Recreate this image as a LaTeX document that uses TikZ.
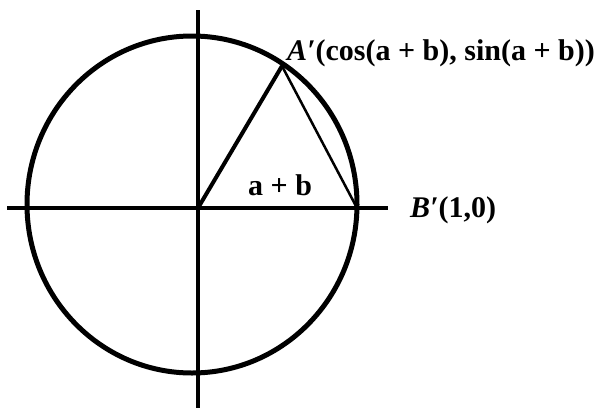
\documentclass[tikz,border=0pt]{standalone}
\usepackage{fontspec}
\setmainfont{Liberation Serif}
\usetikzlibrary{positioning}

\begin{document}
\begin{tikzpicture}[x=1pt, y=-1pt,
	axis/.style={line width=4pt},
	rim/.style={line width=5pt},
	chord/.style={line width=2.5pt},
	lbl/.style={font=\bfseries\fontsize{30}{34}\selectfont, inner sep=0pt}]
	\useasboundingbox (0,0) rectangle (611,408);
	% points
	\coordinate (O) at (198,208);
	\coordinate (A) at (282,66);
	\coordinate (B) at (357,208);
	\coordinate (xl) at (7,208);
	\coordinate (xr) at (388,208);
	\coordinate (yt) at (198,10);
	\coordinate (yb) at (198,408);
	% unit circle and axes
	\draw[rim] (192,204.5) ellipse [x radius=165, y radius=168.5];
	\draw[axis] (xl) -- (xr);
	\draw[axis] (yt) -- (yb);
	% triangle
	\draw[axis] (O) -- (A);
	\draw[chord] (A) -- (B);
	% labels
	\node[lbl, anchor=base west] (Alab) at (287,60) {\itshape A′\upshape(cos(a + b), sin(a + b))};
	\node[lbl, anchor=base west] (Blab) at (410,217) {\itshape B′\upshape(1,0)};
	\node[lbl, anchor=base west] (ang) at (248,195) {a + b};
\end{tikzpicture}
\end{document}
